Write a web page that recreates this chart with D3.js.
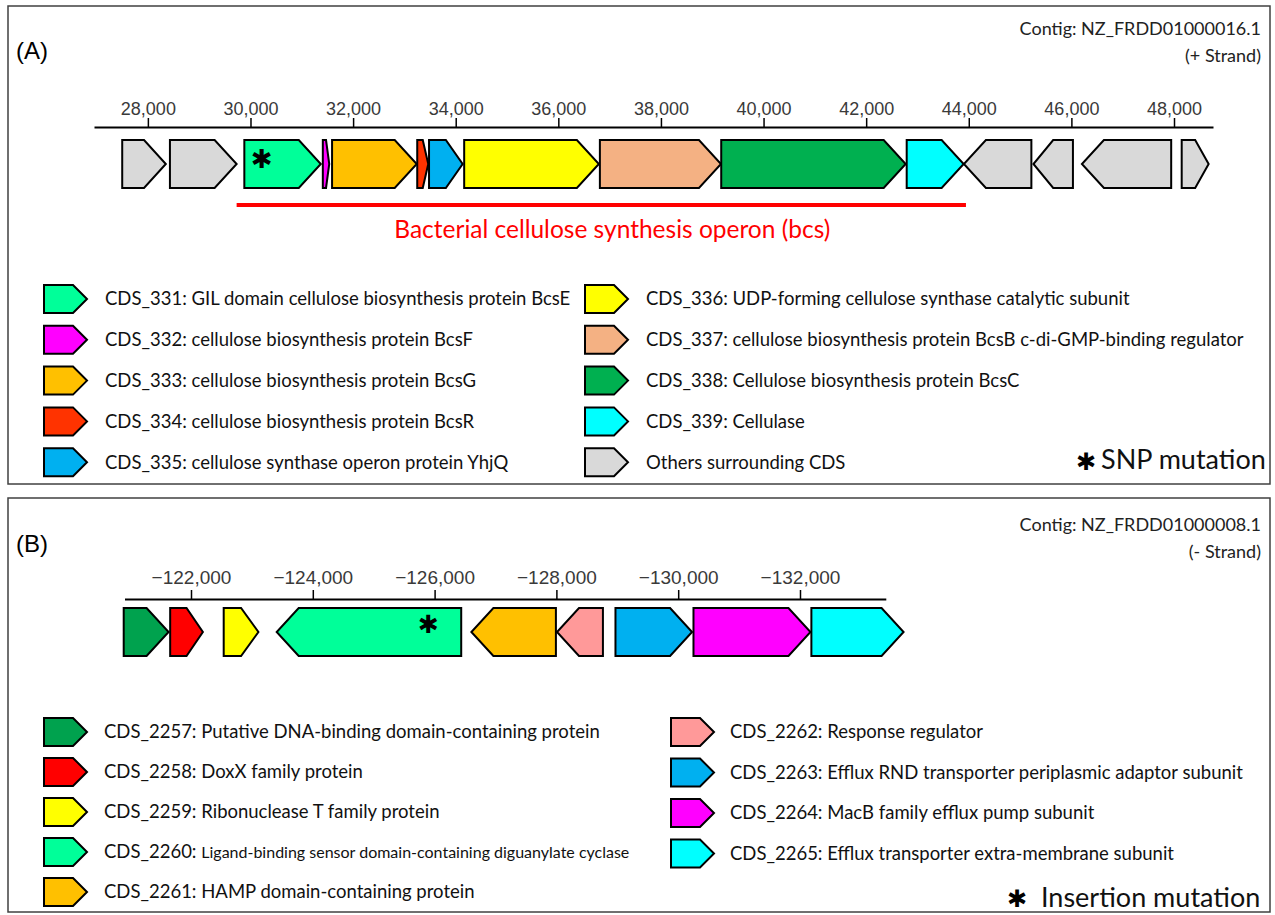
<!DOCTYPE html>
<html>
<head>
<meta charset="utf-8">
<script src="https://cdn.jsdelivr.net/npm/d3@7"></script>
<style>
  body { margin: 0; background: #fff; }
</style>
</head>
<body>
<div id="chart"></div>
<script>
// ---- Panel A : contig NZ_FRDD01000016.1 (+ strand) ----
const ticksA = [28000, 30000, 32000, 34000, 36000, 38000, 40000, 42000, 44000, 46000, 48000];
const genesA = ["other", "other", "CDS_331", "CDS_332", "CDS_333", "CDS_334", "CDS_335", "CDS_336",
                "CDS_337", "CDS_338", "CDS_339", "other", "other", "other", "other"];
const startA = [27500, 28430, 29880, 31410, 31590, 33250, 33480, 34165, 36810, 39175, 42790, 43905, 45260, 46205, 48150];
const endA   = [28350, 29730, 31370, 31535, 33240, 33465, 34135, 36790, 39170, 42770, 43900, 45220, 46030, 47945, 48675];
const strandA = ["+", "+", "+", "+", "+", "+", "+", "+", "+", "+", "+", "-", "-", "-", "+"];
const operonA = [29730, 43945];
const operonLabelA = "Bacterial cellulose synthesis operon (bcs)";
const mutationA = 30216;   // SNP inside CDS_331
const legendIdsA = ["CDS_331", "CDS_332", "CDS_333", "CDS_334", "CDS_335",
                    "CDS_336", "CDS_337", "CDS_338", "CDS_339", "other"];
const legendTextA = [
  "CDS_331: GIL domain cellulose biosynthesis protein BcsE",
  "CDS_332: cellulose biosynthesis protein BcsF",
  "CDS_333: cellulose biosynthesis protein BcsG",
  "CDS_334: cellulose biosynthesis protein BcsR",
  "CDS_335: cellulose synthase operon protein YhjQ",
  "CDS_336: UDP-forming cellulose synthase catalytic subunit",
  "CDS_337: cellulose biosynthesis protein BcsB c-di-GMP-binding regulator",
  "CDS_338: Cellulose biosynthesis protein BcsC",
  "CDS_339: Cellulase",
  "Others surrounding CDS"
];

// ---- Panel B : contig NZ_FRDD01000008.1 (- strand) ----
const ticksB = [-122000, -124000, -126000, -128000, -130000, -132000];
const genesB = ["CDS_2257", "CDS_2258", "CDS_2259", "CDS_2260", "CDS_2261",
                "CDS_2262", "CDS_2263", "CDS_2264", "CDS_2265"];
const startB = [-120895, -121658, -122537, -123407, -126604, -128010, -128970, -130251, -132187];
const endB   = [-121632, -122195, -123107, -126437, -127992, -128764, -130228, -132172, -133701];
const strandB = ["+", "+", "+", "-", "-", "-", "+", "+", "+"];
const mutationB = -125900;  // insertion inside CDS_2260
const legendIdsB = ["CDS_2257", "CDS_2258", "CDS_2259", "CDS_2260", "CDS_2261",
                    "CDS_2262", "CDS_2263", "CDS_2264", "CDS_2265"];
const legendTextB = [
  "CDS_2257: Putative DNA-binding domain-containing protein",
  "CDS_2258: DoxX family protein",
  "CDS_2259: Ribonuclease T family protein",
  "CDS_2260: Ligand-binding sensor domain-containing diguanylate cyclase",
  "CDS_2261: HAMP domain-containing protein",
  "CDS_2262: Response regulator",
  "CDS_2263: Efflux RND transporter periplasmic adaptor subunit",
  "CDS_2264: MacB family efflux pump subunit",
  "CDS_2265: Efflux transporter extra-membrane subunit"
];

// colours per gene
const colorA = {
  other: "#d9d9d9", CDS_331: "#00ff99", CDS_332: "#ff00ff", CDS_333: "#ffc000", CDS_334: "#ff3300",
  CDS_335: "#00b0f0", CDS_336: "#ffff00", CDS_337: "#f4b183", CDS_338: "#00b050", CDS_339: "#00ffff"
};
const colorB = {
  CDS_2257: "#00a24e", CDS_2258: "#ff0000", CDS_2259: "#ffff00", CDS_2260: "#00ff99", CDS_2261: "#ffc000",
  CDS_2262: "#ff9999", CDS_2263: "#00b0f0", CDS_2264: "#ff00ff", CDS_2265: "#00ffff"
};

const textFont = "Lato, 'Open Sans', sans-serif";
const axisFont = "'Liberation Sans', Arial, sans-serif";
const starFont = "'DejaVu Sans', sans-serif";

const svg = d3.select("#chart").append("svg")
    .attr("width", 1275)
    .attr("height", 915)
    .style("display", "block");

// gene arrow shape
function genePath(xa, xb, strand, yc, h, tipMax) {
  const x0 = Math.min(xa, xb), x1 = Math.max(xa, xb);
  const t = Math.min(tipMax, (x1 - x0) / 2);
  if (strand === "+")
    return `M${x0},${yc - h}L${x1 - t},${yc - h}L${x1},${yc}L${x1 - t},${yc + h}L${x0},${yc + h}Z`;
  return `M${x1},${yc - h}L${x0 + t},${yc - h}L${x0},${yc}L${x0 + t},${yc + h}L${x1},${yc + h}Z`;
}

function drawAxis(x, ticks, y, fontSize, pad) {
  const g = svg.append("g")
      .attr("transform", `translate(0,${y})`)
      .call(d3.axisTop(x).tickValues(ticks).tickFormat(d3.format(","))
              .tickSize(9).tickSizeOuter(0).tickPadding(pad));
  g.select(".domain").attr("stroke", "#000").attr("stroke-width", 2);
  g.selectAll(".tick line").attr("stroke", "#000").attr("stroke-width", 1.5);
  g.selectAll(".tick text")
      .attr("font-family", axisFont)
      .attr("font-size", fontSize)
      .attr("fill", "#3a3a3a");
  return g;
}

function drawGenes(x, ids, starts, ends, strands, colors, yc) {
  const rows = ids.map((id, i) => ({id, start: starts[i], end: ends[i], strand: strands[i]}));
  svg.append("g").selectAll("path")
    .data(rows)
    .join("path")
      .attr("d", d => genePath(x(d.start), x(d.end), d.strand, yc, 24, 22))
      .attr("fill", d => colors[d.id])
      .attr("stroke", "#000")
      .attr("stroke-width", 2);
}

function star(x, y, size) {
  svg.append("text")
      .attr("x", x).attr("y", y)
      .attr("dy", "0.33em")
      .attr("text-anchor", "middle")
      .attr("font-family", starFont)
      .attr("font-size", size)
      .text("\u2731");
}

function drawLegend(ids, texts, colors, cols) {
  cols.forEach(c => {
    const items = ids.slice(c.first, c.first + c.count).map((id, i) => ({id, text: texts[c.first + i], i}));
    const g = svg.append("g");
    g.selectAll("path")
      .data(items)
      .join("path")
        .attr("d", d => genePath(c.swatchX, c.swatchX + 43, "+", c.y0 + d.i * c.step, 14, 14))
        .attr("fill", d => colors[d.id])
        .attr("stroke", "#000")
        .attr("stroke-width", 2);
    const t = g.selectAll("text")
      .data(items)
      .join("text")
        .attr("x", c.textX)
        .attr("y", d => c.y0 + d.i * c.step)
        .attr("dy", "0.35em")
        .attr("font-family", textFont)
        .attr("font-size", 18.5)
        .attr("fill", "#111");
    t.each(function(d) {
      const el = d3.select(this);
      if (d.id === "CDS_2260") {
        // the long description is set in a smaller size
        const k = d.text.indexOf(":") + 1;
        el.append("tspan").text(d.text.slice(0, k) + " ");
        el.append("tspan").attr("font-size", 16).text(d.text.slice(k + 1));
      } else {
        el.text(d.text);
      }
    });
  });
}

// ---------- frames ----------
svg.append("rect").attr("x", 8).attr("y", 6).attr("width", 1262).attr("height", 478)
    .attr("fill", "none").attr("stroke", "#404040").attr("stroke-width", 1.5);
svg.append("rect").attr("x", 8).attr("y", 498).attr("width", 1262).attr("height", 414)
    .attr("fill", "none").attr("stroke", "#404040").attr("stroke-width", 1.5);

// ---------- panel A ----------
const xA = d3.scaleLinear().domain([26950, 48760]).range([94, 1213]);

svg.append("text").attr("x", 16).attr("y", 59)
    .attr("font-family", axisFont).attr("font-size", 24).text("(A)");
svg.append("text").attr("x", 1261).attr("y", 35).attr("text-anchor", "end")
    .attr("font-family", textFont).attr("font-size", 18).attr("fill", "#222")
    .text("Contig: NZ_FRDD01000016.1");
svg.append("text").attr("x", 1261).attr("y", 62).attr("text-anchor", "end")
    .attr("font-family", textFont).attr("font-size", 18).attr("fill", "#222")
    .text("(+ Strand)");

drawAxis(xA, ticksA, 127, 18, 3);
drawGenes(xA, genesA, startA, endA, strandA, colorA, 164);
star(xA(mutationA), 159, 26);

svg.append("line")
    .attr("x1", xA(operonA[0])).attr("x2", xA(operonA[1]))
    .attr("y1", 205).attr("y2", 205)
    .attr("stroke", "#ff0000").attr("stroke-width", 4);
svg.append("text")
    .attr("x", (xA(operonA[0]) + xA(operonA[1])) / 2 + 11).attr("y", 238)
    .attr("text-anchor", "middle")
    .attr("font-family", textFont).attr("font-size", 24.5).attr("fill", "#ff0000")
    .text(operonLabelA);

drawLegend(legendIdsA, legendTextA, colorA, [
  {swatchX: 44, textX: 105, first: 0, count: 5, y0: 299, step: 40.8},
  {swatchX: 585, textX: 646, first: 5, count: 5, y0: 299, step: 40.8}
]);

star(1086, 462.5, 24);
svg.append("text").attr("x", 1101).attr("y", 469)
    .attr("font-family", textFont).attr("font-size", 27).attr("fill", "#111")
    .text("SNP mutation");

// ---------- panel B ----------
const xB = d3.scaleLinear().domain([-120908, -133409]).range([124.5, 885.8]);

svg.append("text").attr("x", 16).attr("y", 552)
    .attr("font-family", axisFont).attr("font-size", 24).text("(B)");
svg.append("text").attr("x", 1261).attr("y", 531).attr("text-anchor", "end")
    .attr("font-family", textFont).attr("font-size", 18).attr("fill", "#222")
    .text("Contig: NZ_FRDD01000008.1");
svg.append("text").attr("x", 1261).attr("y", 558).attr("text-anchor", "end")
    .attr("font-family", textFont).attr("font-size", 18).attr("fill", "#222")
    .text("(- Strand)");

drawAxis(xB, ticksB, 599, 19, 6);
drawGenes(xB, genesB, startB, endB, strandB, colorB, 632);
star(xB(mutationB), 625, 25);

drawLegend(legendIdsB, legendTextB, colorB, [
  {swatchX: 44, textX: 104, first: 0, count: 5, y0: 732, step: 40},
  {swatchX: 671, textX: 730, first: 5, count: 4, y0: 732, step: 40.5}
]);

star(1017, 899, 24);
svg.append("text").attr("x", 1041).attr("y", 907)
    .attr("font-family", textFont).attr("font-size", 27).attr("fill", "#111")
    .text("Insertion mutation");
</script>
</body>
</html>
